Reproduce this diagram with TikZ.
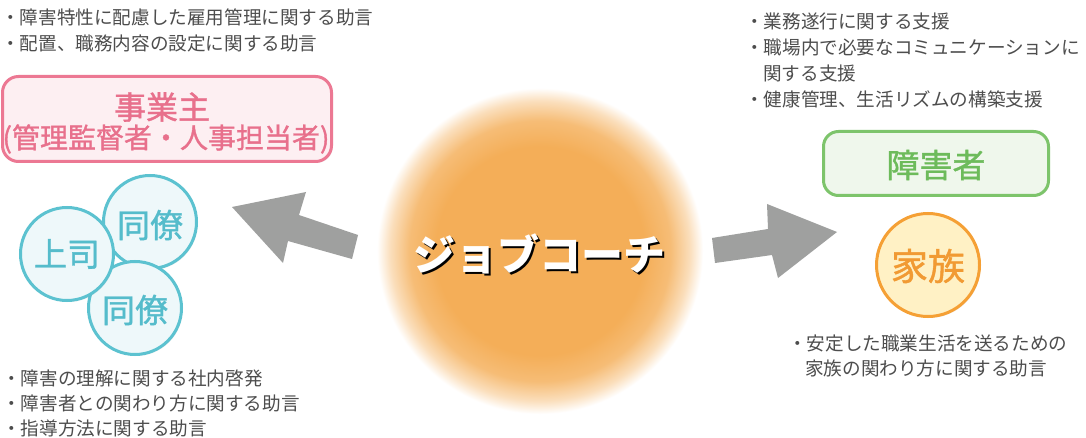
\documentclass[tikz,border=0pt]{standalone}
\usepackage{fontspec}
\newfontfamily\jp{Noto Sans CJK JP}
\newfontfamily\jpm[FakeBold=1.2]{Noto Sans CJK JP}
\usetikzlibrary{shadows}
\definecolor{pinkB}{HTML}{EC7893}
\definecolor{pinkF}{HTML}{FDEFF2}
\definecolor{pinkT}{HTML}{E8708C}
\definecolor{blueB}{HTML}{5CC2D0}
\definecolor{blueF}{HTML}{EEF8FA}
\definecolor{blueT}{HTML}{55BCCB}
\definecolor{greenB}{HTML}{7DC46B}
\definecolor{greenF}{HTML}{EFF7EC}
\definecolor{greenT}{HTML}{6DBB5B}
\definecolor{orangeB}{HTML}{F5A035}
\definecolor{orangeF}{HTML}{FFF1C5}
\definecolor{orangeT}{HTML}{F19A33}
\definecolor{jcor}{HTML}{F4AE58}
\definecolor{arrowgray}{HTML}{9FA09F}
\definecolor{txtgray}{HTML}{4D4D4D}
\pgfdeclareradialshading{jcglow}{\pgfpoint{0bp}{0bp}}{color(0bp)=(jcor); color(16bp)=(jcor); color(20bp)=(jcor!82!white); color(23bp)=(jcor!40!white); color(25bp)=(white); color(50bp)=(white)}
\tikzset{
  softshadow/.style={drop shadow={opacity=0.12, shadow xshift=1.2pt, shadow yshift=-1.5pt}},
  txt/.style={font=\jp\fontsize{18.6}{20}\selectfont, text=txtgray, inner sep=0, anchor=west},
  pinkbox/.style={draw=pinkB, fill=pinkF, line width=3pt, rounded corners=16pt, softshadow},
  greenbox/.style={draw=greenB, fill=greenF, line width=3pt, rounded corners=15pt, softshadow},
  bluecirc/.style={circle, draw=blueB, fill=blueF, line width=3pt, minimum size=93pt, inner sep=0, softshadow},
  orangecirc/.style={circle, draw=orangeB, fill=orangeF, line width=3pt, minimum size=103pt, inner sep=0, softshadow},
  bluetxt/.style={font=\jpm\fontsize{33}{36}\selectfont, text=blueT, inner sep=0},
  arrowshape/.style={fill=arrowgray},
}
\newcommand{\jcword}{ジョブコーチ}
\begin{document}
\begin{tikzpicture}[x=1pt,y=-1pt]
\useasboundingbox (0,0) rectangle (1086,438);
\fill[white] (0,0) rectangle (1086,438);

% central glow
\node[circle, minimum size=326pt, inner sep=0, shading=jcglow] (jc) at (540,251) {};
\node[font=\jp\bfseries\fontsize{42}{44}\selectfont, text=white, inner sep=0] (jctext) at (539,255)
  {\rlap{\kern2.5pt\raisebox{-2.5pt}{\textcolor{black}{\jcword}}}\jcword};

% arrows
\fill[arrowshape] (232,207) -- (306,192) -- (299,215) -- (358,235) -- (352,259) -- (288,241) -- (283,263) -- cycle;
\fill[arrowshape] (712,238) -- (768,229) -- (767,204) -- (837,232) -- (778,278) -- (772,255) -- (715,263) -- cycle;

% employer box
\node[pinkbox, minimum width=329pt, minimum height=85pt, inner sep=0] (emp) at (167,119) {};
\node[font=\jpm\fontsize{32}{34}\selectfont, text=pinkT, inner sep=0] (emp1) at (162,107) {事業主};
\node[font=\jpm\fontsize{28}{30}\selectfont, text=pinkT, inner sep=0] (emp2) at (166,139) {(管理監督者・人事担当者)};

% colleagues
\node[bluecirc] (dr1) at (150,222) {};
\node[bluecirc] (dr2) at (135,308) {};
\node[bluecirc] (boss) at (67,254) {};
\node[bluetxt] (dr1t) at (150,225) {同僚};
\node[bluetxt] (dr2t) at (135,310) {同僚};
\node[bluetxt] (bosst) at (67,254) {上司};

% person with disability
\node[greenbox, minimum width=225pt, minimum height=64pt, inner sep=0] (sh) at (936,163.5) {};
\node[font=\jpm\fontsize{33}{36}\selectfont, text=greenT, inner sep=0] (sht) at (936,165) {障害者};
\node[orangecirc] (fam) at (928,265) {};
\node[font=\jpm\fontsize{37}{40}\selectfont, text=orangeT, inner sep=0] (famt) at (928,266) {家族};

% texts top-left
\node[txt] (tl1) at (1,17) {・障害特性に配慮した雇用管理に関する助言};
\node[txt] (tl2) at (1,43) {・配置、職務内容の設定に関する助言};
% texts top-right
\node[txt] (tr1) at (745,21) {・業務遂行に関する支援};
\node[txt] (tr2) at (745,47) {・職場内で必要なコミュニケーションに};
\node[txt] (tr3) at (763,73) {関する支援};
\node[txt] (tr4) at (745,99) {・健康管理、生活リズムの構築支援};
% texts bottom-left
\node[txt] (bl1) at (2,378) {・障害の理解に関する社内啓発};
\node[txt] (bl2) at (2,403) {・障害者との関わり方に関する助言};
\node[txt] (bl3) at (2,428) {・指導方法に関する助言};
% texts bottom-right
\node[txt] (br1) at (788,343) {・安定した職業生活を送るための};
\node[txt] (br2) at (805,368) {家族の関わり方に関する助言};
\end{tikzpicture}
\end{document}
